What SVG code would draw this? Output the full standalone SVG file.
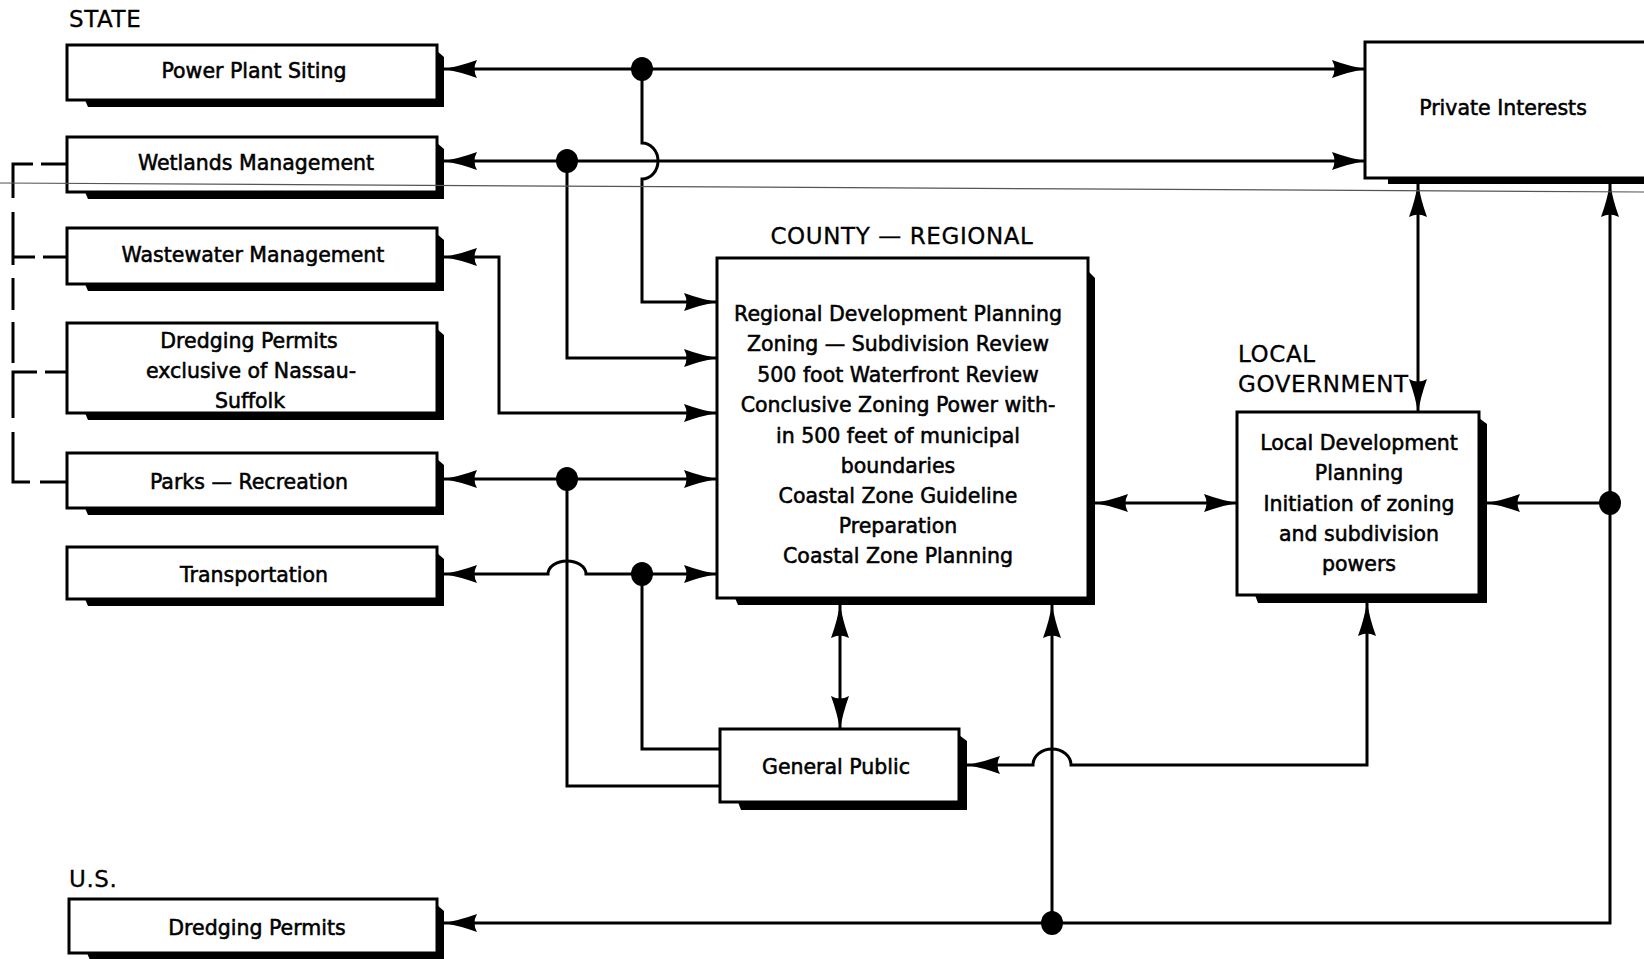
<svg xmlns="http://www.w3.org/2000/svg" width="1644" height="959" viewBox="0 0 1644 959">
  <style>
    .box { fill: #fff; stroke: #000; stroke-width: 3; }
    .shadow { fill: #000; }
    .t { font-family: "DejaVu Sans", "Liberation Sans", sans-serif; font-size: 20.5px; fill: #000; text-anchor: middle; stroke: #000; stroke-width: 0.55px; }
    .h { font-family: "DejaVu Sans", "Liberation Sans", sans-serif; font-size: 23px; fill: #000; letter-spacing: 0.6px; stroke: #000; stroke-width: 0.3px; }
    .ln { fill: none; stroke: #000; stroke-width: 3; }
    .two { marker-start: url(#ah); marker-end: url(#ah); }
    .one { marker-end: url(#ah); }
    .dot { fill: #000; }
  </style>
  <defs>
    <marker id="ah" viewBox="-36 -11 38 22" refX="0" refY="0" markerWidth="38" markerHeight="22" markerUnits="userSpaceOnUse" orient="auto-start-reverse">
      <path d="M1,0 Q-15,-2.5 -33,-9 Q-28,0 -33,9 Q-15,2.5 1,0 Z" fill="#000"/>
    </marker>
  </defs>

  <rect width="1644" height="959" fill="#fff"/>

  <!-- section headings -->
  <g id="headings">
    <text class="h" x="69" y="27">STATE</text>
    <text class="h" x="902" y="244" text-anchor="middle">COUNTY — REGIONAL</text>
    <text class="h" x="1238" y="362">LOCAL</text>
    <text class="h" x="1238" y="392">GOVERNMENT</text>
    <text class="h" x="69" y="887">U.S.</text>
  </g>

  <!-- connectors -->
  <g id="connectors">
    <!-- state dashed bracket -->
    <path class="ln" d="M33,164 H13 V198 M41,164 H67"/>
    <path class="ln" d="M13,212 V265 M13,257 H35 M43,257 H67"/>
    <path class="ln" d="M13,278 V310"/>
    <path class="ln" d="M13,322 V363"/>
    <path class="ln" d="M13,418 V372 H37 M45,372 H67"/>
    <path class="ln" d="M13,432 V482 H30 M40,482 H67"/>

    <!-- power plant siting row -->
    <path class="ln two" d="M444,69 H1365"/>
    <path class="ln one" d="M642,69 V143 A16,18 0 0 1 642,179 V302 H717"/>
    <!-- wetlands row -->
    <path class="ln two" d="M444,161 H1365"/>
    <path class="ln one" d="M567,161 V358 H717"/>
    <!-- wastewater -->
    <path class="ln two" d="M444,257 H499 V413 H717"/>
    <!-- parks - recreation -->
    <path class="ln two" d="M444,479 H717"/>
    <path class="ln" d="M567,479 V786 H720"/>
    <!-- transportation -->
    <path class="ln two" d="M444,574 H548 A19,13 0 0 1 586,574 H717"/>
    <path class="ln" d="M642,574 V749 H720"/>

    <!-- county links -->
    <path class="ln two" d="M840,605 V729"/>
    <path class="ln two" d="M1095,503 H1237"/>
    <!-- private interests / local government -->
    <path class="ln two" d="M1418,184 V412"/>
    <!-- right trunk -->
    <path class="ln two" d="M1610,184 V923 H444"/>
    <path class="ln one" d="M1610,503 H1487"/>
    <path class="ln one" d="M1052,923 V605"/>
    <!-- local government to general public -->
    <path class="ln two" d="M1367,603 V765 H1071 A19,16 0 0 0 1033,765 H967"/>

    <ellipse class="dot" cx="642" cy="69" rx="11" ry="12"/>
    <ellipse class="dot" cx="567" cy="161" rx="11" ry="12"/>
    <ellipse class="dot" cx="567" cy="479" rx="11" ry="12"/>
    <ellipse class="dot" cx="642" cy="574" rx="11" ry="12"/>
    <ellipse class="dot" cx="1610" cy="503" rx="11" ry="12"/>
    <ellipse class="dot" cx="1052" cy="923" rx="11" ry="12"/>
  </g>

  <!-- state boxes -->
  <g id="power-plant-siting">
    <path class="shadow" d="M85,100 L88,107 H444 V57 L437,51 Z"/>
    <rect class="box" x="67" y="45" width="370" height="55"/>
    <text class="t" x="254" y="78">Power Plant Siting</text>
  </g>
  <g id="wetlands-management">
    <path class="shadow" d="M85,192 L88,199 H444 V149 L437,143 Z"/>
    <rect class="box" x="67" y="137" width="370" height="55"/>
    <text class="t" x="256" y="170">Wetlands Management</text>
  </g>
  <g id="wastewater-management">
    <path class="shadow" d="M85,284 L88,291 H444 V240 L437,234 Z"/>
    <rect class="box" x="67" y="228" width="370" height="56"/>
    <text class="t" x="253" y="262">Wastewater Management</text>
  </g>
  <g id="dredging-permits-state">
    <path class="shadow" d="M85,413 L88,420 H444 V335 L437,329 Z"/>
    <rect class="box" x="67" y="323" width="370" height="90"/>
    <text class="t" x="249" y="348">Dredging Permits</text>
    <text class="t" x="251" y="378">exclusive of Nassau-</text>
    <text class="t" x="250" y="408">Suffolk</text>
  </g>
  <g id="parks-recreation">
    <path class="shadow" d="M85,508 L88,515 H444 V465 L437,459 Z"/>
    <rect class="box" x="67" y="453" width="370" height="55"/>
    <text class="t" x="249" y="489">Parks — Recreation</text>
  </g>
  <g id="transportation">
    <path class="shadow" d="M85,599 L88,606 H444 V559 L437,553 Z"/>
    <rect class="box" x="67" y="547" width="370" height="52"/>
    <text class="t" x="254" y="582">Transportation</text>
  </g>

  <!-- federal box -->
  <g id="dredging-permits-us">
    <path class="shadow" d="M87,953 L90,960 H444 V911 L437,905 Z"/>
    <rect class="box" x="69" y="899" width="368" height="54"/>
    <text class="t" x="257" y="935">Dredging Permits</text>
  </g>

  <g id="private-interests">
    <rect class="shadow" x="1388" y="178" width="262" height="6"/>
    <rect class="box" x="1365" y="42" width="285" height="136"/>
    <text class="t" x="1503" y="115">Private Interests</text>
  </g>

  <g id="county-regional">
    <path class="shadow" d="M735,598 L738,605 H1095 V278 L1088,271 Z"/>
    <rect class="box" x="717" y="258" width="371" height="340"/>
    <text class="t" x="898" y="321">Regional Development Planning</text>
    <text class="t" x="898" y="351">Zoning — Subdivision Review</text>
    <text class="t" x="898" y="382">500 foot Waterfront Review</text>
    <text class="t" x="898" y="412">Conclusive Zoning Power with-</text>
    <text class="t" x="898" y="443">in 500 feet of municipal</text>
    <text class="t" x="898" y="473">boundaries</text>
    <text class="t" x="898" y="503">Coastal Zone Guideline</text>
    <text class="t" x="898" y="533">Preparation</text>
    <text class="t" x="898" y="563">Coastal Zone Planning</text>
  </g>

  <g id="local-government">
    <path class="shadow" d="M1255,595 L1258,603 H1487 V424 L1479,418 Z"/>
    <rect class="box" x="1237" y="412" width="242" height="183"/>
    <text class="t" x="1359" y="450">Local Development</text>
    <text class="t" x="1359" y="480">Planning</text>
    <text class="t" x="1359" y="511">Initiation of zoning</text>
    <text class="t" x="1359" y="541">and subdivision</text>
    <text class="t" x="1359" y="571">powers</text>
  </g>

  <g id="general-public">
    <path class="shadow" d="M738,802 L741,810 H967 V741 L959,735 Z"/>
    <rect class="box" x="720" y="729" width="239" height="73"/>
    <text class="t" x="836" y="774">General Public</text>
  </g>

  <!-- faint crease across the sheet -->
  <line x1="0" y1="183" x2="1644" y2="192" stroke="#555" stroke-width="1.2"/>
</svg>
